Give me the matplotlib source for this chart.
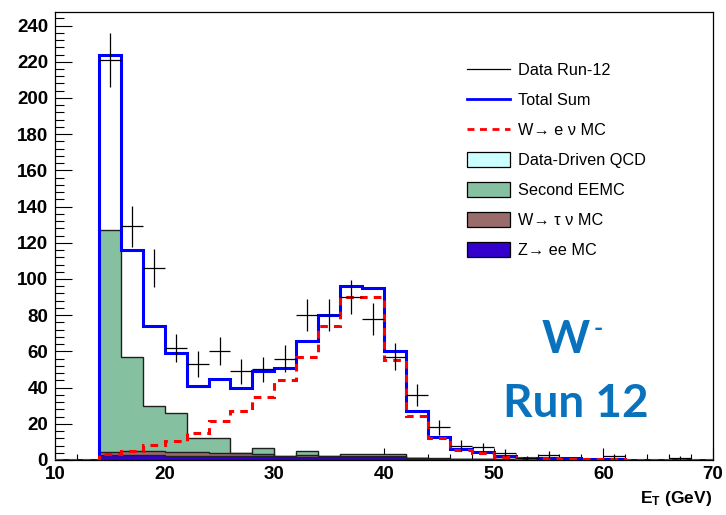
import numpy as np
import matplotlib
matplotlib.use("Agg")
import matplotlib.pyplot as plt
from matplotlib.lines import Line2D
from matplotlib.patches import Patch
from matplotlib.ticker import MultipleLocator

plt.rcParams['font.family'] = ['Liberation Sans', 'DejaVu Sans']
plt.rcParams['mathtext.fontset'] = 'custom'
plt.rcParams['mathtext.bf'] = 'Liberation Sans:bold'
plt.rcParams['mathtext.rm'] = 'Liberation Sans:bold'

# E_T binning, 2 GeV bins from 10 to 70
edges = np.arange(10, 72, 2)
centers = 0.5 * (edges[:-1] + edges[1:])

data = [0, 0, 221, 129, 106, 62, 53, 60, 49, 50, 56, 80, 80, 90, 78, 57,
        36, 18, 8, 7, 4, 1, 3, 0, 0, 2, 0, 0, 1, 0]
total = [0, 0, 224, 116, 74, 59, 41, 45, 40, 49, 51, 66, 80, 96, 95, 60,
         27, 12.5, 6, 4.2, 2, 1, 1, 1, 0.4, 0.3, 0.2, 0.2, 0.1, 0.1]
wenu = [0, 0, 3.5, 5.2, 8.3, 10.5, 14.7, 21.5, 27, 35, 44, 57, 74, 90, 90, 55,
        24.5, 12, 5.5, 3.8, 1.8, 0.9, 0.9, 0.8, 0.3, 0.3, 0.2, 0.2, 0.1, 0.1]
# stacked backgrounds, bottom to top
zee = [0, 0, 2.8, 2.6, 2.6, 2.4, 2.3, 2.2, 2.1, 2.0, 1.9, 1.8, 1.8, 1.8, 1.8, 1.6,
       1.0, 0.6, 0.4, 0.3, 0.2, 0.1, 0.1, 0.1, 0.05, 0.05, 0, 0, 0, 0]
wtau = [0, 0, 1.8, 2.5, 2.5, 2.2, 1.9, 1.7, 1.7, 1.4, 0.3, 1.0, 0.6, 0.5, 0.4, 0.4,
        0.2, 0.2, 0.1, 0.1, 0.1, 0, 0, 0, 0, 0, 0, 0, 0, 0]
eemc = [0, 0, 122.4, 51.9, 24.9, 21.2, 7.8, 8.1, 0, 3.4, 0, 1.9, 0, 1.0, 1.1, 1.3,
        0, 0.2, 0.1, 0.1, 0, 0, 0, 0, 0, 0, 0, 0, 0, 0]

fig = plt.figure(figsize=(7.26, 5.15), dpi=100)
ax = fig.add_axes([55/726, 55/515, 658/726, 448/515])

layers = [(zee, '#3300cc'), (wtau, '#996b6b'), (eemc, '#85c0a0')]
base = np.zeros(len(centers))
for vals, col in layers:
    top = base + np.array(vals)
    ax.stairs(top, edges, baseline=base, fill=True, color=col, zorder=2)
    base = top
# black outlines of each stacked histogram
base = np.zeros(len(centers))
for vals, col in layers:
    base = base + np.array(vals)
    ax.stairs(base, edges, baseline=0, color='#202020', lw=1.0, zorder=3)

ax.stairs(total, edges, baseline=0, color='#0000ff', lw=2.2, zorder=4)
ax.stairs(wenu, edges, baseline=0, color='#ff0000', lw=2.2,
          linestyle=(0, (2.5, 2)), zorder=5)

d = np.array(data, dtype=float)
m = d > 0
ax.errorbar(centers[m], d[m], xerr=1.0, yerr=np.sqrt(d[m]), fmt='none',
            ecolor='black', elinewidth=0.9, capsize=0, zorder=6)

ax.set_xlim(10, 70)
ax.set_ylim(0, 247.5)
ax.xaxis.set_major_locator(MultipleLocator(10))
ax.xaxis.set_minor_locator(MultipleLocator(2))
ax.yaxis.set_major_locator(MultipleLocator(20))
ax.yaxis.set_minor_locator(MultipleLocator(4))
ax.tick_params(axis='both', which='both', direction='in', top=False, right=False,
               labelsize=13.5, width=0.8)
ax.tick_params(axis='x', which='major', length=9, pad=4)
ax.tick_params(axis='x', which='minor', length=4.5)
ax.tick_params(axis='y', which='major', length=12, pad=5)
ax.tick_params(axis='y', which='minor', length=6.5)
for lab in ax.get_xticklabels() + ax.get_yticklabels():
    lab.set_fontweight('bold')
for sp in ax.spines.values():
    sp.set_linewidth(0.9)

handles = [
    Line2D([], [], color='black', lw=0.9),
    Line2D([], [], color='#0000ff', lw=2.0),
    Line2D([], [], color='#ff0000', lw=2.0, linestyle=(0, (2.5, 2))),
    Patch(facecolor='#ccffff', edgecolor='black', lw=0.9),
    Patch(facecolor='#85c0a0', edgecolor='black', lw=0.9),
    Patch(facecolor='#996b6b', edgecolor='black', lw=0.9),
    Patch(facecolor='#3300cc', edgecolor='black', lw=0.9),
]
labels = ['Data Run-12', 'Total Sum', 'W\u2192 e \u03bd MC', 'Data-Driven QCD',
          'Second EEMC', 'W\u2192 \u03c4 \u03bd MC', 'Z\u2192 ee MC']
fig.legend(handles, labels, loc='upper left', bbox_to_anchor=(467/726, 1 - 62/515),
           frameon=False, fontsize=11.7, borderpad=0, borderaxespad=0,
           handlelength=2.65, handleheight=1.05, handletextpad=0.5,
           labelspacing=0.86)

fig.text(566/726, 1 - 340/515, 'W', color='#0a72bd', fontsize=33,
         fontfamily='Lato', fontweight='bold', ha='center', va='center')
fig.text(598/726, 1 - 328/515, '-', color='#0a72bd', fontsize=18,
         fontfamily='Lato', fontweight='bold', ha='center', va='center')
fig.text(576/726, 1 - 417/515, 'Run 12', color='#0a72bd', fontsize=33,
         fontfamily='Lato', fontweight='bold', ha='center', va='baseline')

fig.text(712/726, 1 - 503/515, r'$\mathbf{E_{T}}$ (GeV)', fontsize=12.5,
         fontweight='bold', ha='right', va='baseline')

fig.savefig('out.png', dpi=100)
